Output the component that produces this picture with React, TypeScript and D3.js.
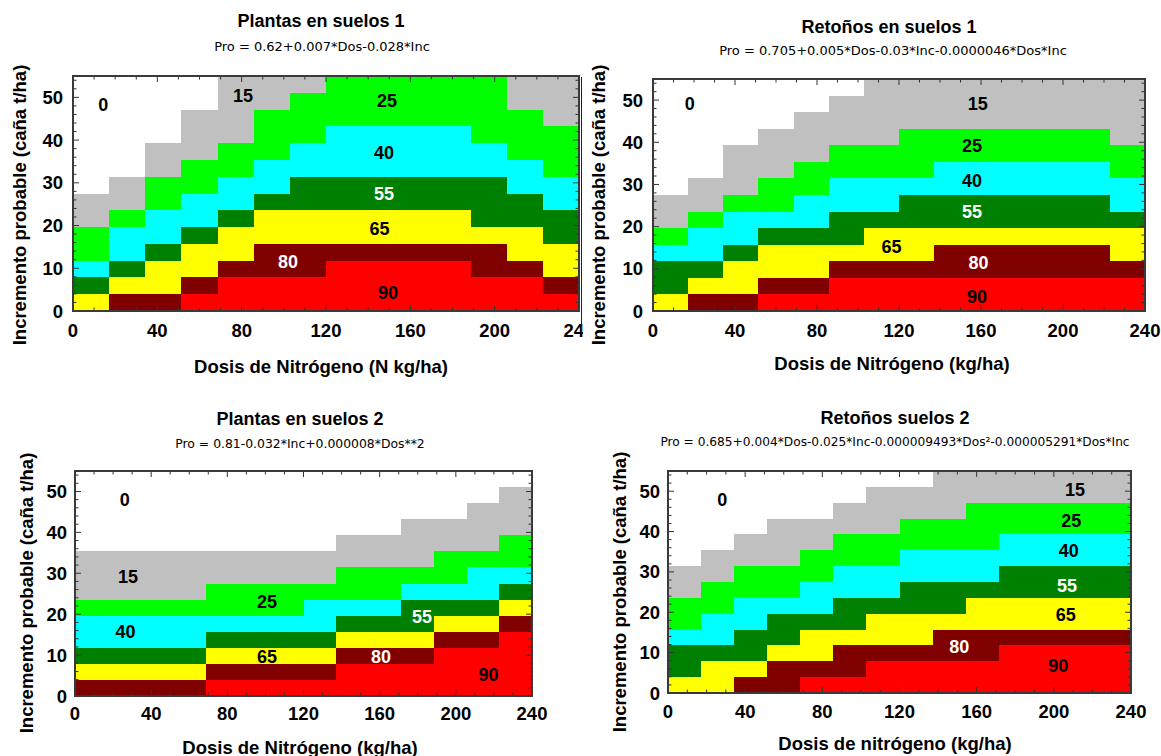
import React from 'react';
import * as d3 from 'd3';

const LEVELS = ['0', '15', '25', '40', '55', '65', '80', '90'];
const LEVEL_COLORS = ['#ffffff', '#c0c0c0', '#00ff00', '#00ffff', '#008000', '#ffff00', '#800000', '#ff0000'];
const LABEL_COLORS = ['#000', '#000', '#000', '#000', '#fff', '#000', '#fff', '#000'];

const X_TICKS = [0, 40, 80, 120, 160, 200, 240];
const Y_TICKS = [0, 10, 20, 30, 40, 50];
const DOS_MAX = 240;
const INC_MAX = 55;
const N_COLS = 14;
const N_ROWS = 14;

// level index of each cell, one string per Dos column, read from Inc 0 upwards
const plantasSuelos1 = [
  '54322110000000',
  '65433211000000',
  '65543322110000',
  '76554332211100',
  '77655433221111',
  '77665543322211',
  '77665544332221',
  '77765544333222',
  '77765544333222',
  '77765544333222',
  '77765544333222',
  '77665444332222',
  '77655443322211',
  '76554433222111'
];

const retonosSuelos1 = [
  '54432110000000',
  '65433211000000',
  '65543321110000',
  '76554322111000',
  '76554332211100',
  '77654433221110',
  '77655433221111',
  '77655443222111',
  '77665443322111',
  '77665443322111',
  '77665443322111',
  '77665443322111',
  '77665443322111',
  '77655433221111'
];

const plantasSuelos2 = [
  '65433211100000',
  '65433211100000',
  '65433211100000',
  '65433211100000',
  '76543221100000',
  '76543221100000',
  '76543221100000',
  '76543321100000',
  '77654322110000',
  '77654322110000',
  '77654432111000',
  '77765432211000',
  '77765433211100',
  '77776543221110'
];

const retonosSuelos2 = [
  '54432211000000',
  '55433221100000',
  '65443322110000',
  '66544322111000',
  '76554332211000',
  '76654433221100',
  '77655433221110',
  '77655443322110',
  '77665443322111',
  '77665543322211',
  '77765544332211',
  '77765544332211',
  '77765544332211',
  '77765544332211'
];

// contour labels: [level index, Dos, Inc]
const plantas1Labels = [
  [0, 14.4, 48.2], [1, 80.6, 50.4], [2, 148.9, 49.1], [3, 147.5, 37.0],
  [4, 147.5, 27.4], [5, 145.4, 19.2], [6, 102, 11.5], [7, 149.4, 4.3]
];
const retonos1Labels = [
  [0, 17.9, 49.1], [1, 158.4, 49.1], [2, 155.6, 39.0], [3, 155.6, 30.8],
  [4, 155.6, 23.4], [5, 116.3, 15.2], [6, 158.8, 11.4], [7, 158, 3.3]
];
const plantas2Labels = [
  [0, 26.1, 47.9], [1, 27.8, 29.2], [2, 100.8, 23.1], [3, 26.5, 15.7],
  [4, 182.2, 19.4], [5, 100.8, 9.6], [6, 160.7, 9.6], [7, 217.2, 5.1]
];
const retonos2Labels = [
  [0, 28.1, 47.8], [1, 211, 50.3], [2, 209.1, 42.7], [3, 207.8, 35.2],
  [4, 206.8, 26.5], [5, 206.2, 19.4], [6, 151, 11.4], [7, 202.3, 6.6]
];

const Y_TITLE = 'Incremento probable (caña t/ha)';
const BOLD = "'Liberation Sans', Arial, Helvetica, sans-serif";
const THIN = "'DejaVu Sans', Verdana, sans-serif";

const panels = [
  {
    id: 'p1', title: 'Plantas en suelos 1', formula: 'Pro = 0.62+0.007*Dos-0.028*Inc',
    xTitle: 'Dosis de Nitrógeno (N kg/ha)', grid: plantasSuelos1, labels: plantas1Labels,
    left: 73, right: 579, top: 76, bottom: 311, titleAt: [321, 21], subAt: [322, 46], subSize: 13,
    xTitleAt: [321, 366], yTitleAt: [19.5, 205], xTickY: 330, yTickRight: 63, clip: 583
  },
  {
    id: 'p2', title: 'Retoños en suelos 1', formula: 'Pro = 0.705+0.005*Dos-0.03*Inc-0.0000046*Dos*Inc',
    xTitle: 'Dosis de Nitrógeno (kg/ha)', grid: retonosSuelos1, labels: retonos1Labels,
    left: 653, right: 1145, top: 79, bottom: 311, titleAt: [889, 27], subAt: [893, 50], subSize: 13,
    xTitleAt: [892, 363], yTitleAt: [598, 205], xTickY: 330, yTickRight: 643, clip: 0
  },
  {
    id: 'p3', title: 'Plantas en suelos 2', formula: 'Pro = 0.81-0.032*Inc+0.000008*Dos**2',
    xTitle: 'Dosis de Nitrógeno (kg/ha)', grid: plantasSuelos2, labels: plantas2Labels,
    left: 75, right: 532, top: 471, bottom: 696, titleAt: [300, 419], subAt: [300, 443], subSize: 12.4,
    xTitleAt: [300, 747], yTitleAt: [26, 593], xTickY: 713, yTickRight: 67, clip: 0
  },
  {
    id: 'p4', title: 'Retoños suelos 2',
    formula: 'Pro = 0.685+0.004*Dos-0.025*Inc-0.000009493*Dos²-0.000005291*Dos*Inc',
    xTitle: 'Dosis de nitrógeno (kg/ha)', grid: retonosSuelos2, labels: retonos2Labels,
    left: 668, right: 1131, top: 471, bottom: 693, titleAt: [895, 418], subAt: [895, 442], subSize: 12.2,
    xTitleAt: [895, 743], yTitleAt: [619, 592], xTickY: 711, yTickRight: 660, clip: 0
  }
];

function Panel({ cfg }) {
  const x = d3.scaleLinear().domain([0, DOS_MAX]).range([cfg.left, cfg.right]);
  const y = d3.scaleLinear().domain([0, INC_MAX]).range([cfg.bottom, cfg.top]);
  const dx = DOS_MAX / N_COLS;
  const dy = INC_MAX / N_ROWS;

  // merge vertical runs of the same level inside each column
  const cells = [];
  cfg.grid.forEach((col, i) => {
    let j = 0;
    while (j < N_ROWS) {
      const lvl = +col[j];
      let k = j;
      while (k + 1 < N_ROWS && +col[k + 1] === lvl) k++;
      if (lvl > 0) {
        const x0 = Math.round(x(i * dx));
        const x1 = Math.round(x((i + 1) * dx));
        const y0 = Math.round(y((k + 1) * dy));
        const y1 = Math.round(y(j * dy));
        cells.push(
          <rect key={`${i}-${j}`} x={x0} y={y0} width={x1 - x0} height={y1 - y0} fill={LEVEL_COLORS[lvl]} />
        );
      }
      j = k + 1;
    }
  });

  const minorX = d3.range(0, DOS_MAX + 1, 10);
  const minorY = d3.range(0, INC_MAX + 0.1, 2);
  const tick = (major) => (major ? 6 : 3.5);

  const content = (
    <g>
      <rect x={cfg.left} y={cfg.top} width={cfg.right - cfg.left} height={cfg.bottom - cfg.top} fill="#fff" />
      <g shapeRendering="crispEdges">{cells}</g>

      {cfg.labels.map(([lvl, dos, inc]) => (
        <text key={lvl} x={x(dos)} y={y(inc)} textAnchor="middle" dominantBaseline="central"
          fontFamily={BOLD} fontWeight="bold" fontSize={18} fill={LABEL_COLORS[lvl]}>
          {LEVELS[lvl]}
        </text>
      ))}

      <g stroke="#333" strokeWidth={1}>
        {minorX.map((v) => (
          <g key={`tx${v}`}>
            <line x1={x(v)} x2={x(v)} y1={cfg.bottom} y2={cfg.bottom - tick(v % 40 === 0)} />
            <line x1={x(v)} x2={x(v)} y1={cfg.top} y2={cfg.top + tick(v % 40 === 0)} />
          </g>
        ))}
        {minorY.map((v) => (
          <g key={`ty${v}`}>
            <line x1={cfg.left} x2={cfg.left + tick(v % 10 === 0)} y1={y(v)} y2={y(v)} />
            <line x1={cfg.right} x2={cfg.right - tick(v % 10 === 0)} y1={y(v)} y2={y(v)} />
          </g>
        ))}
      </g>
      <rect x={cfg.left} y={cfg.top} width={cfg.right - cfg.left} height={cfg.bottom - cfg.top}
        fill="none" stroke="#3a3a3a" strokeWidth={2} />

      {X_TICKS.map((v) => (
        <text key={`xl${v}`} x={x(v)} y={cfg.xTickY} textAnchor="middle" dominantBaseline="central"
          fontFamily={BOLD} fontWeight="bold" fontSize={18.5} fill="#000">{v}</text>
      ))}
      {Y_TICKS.map((v) => (
        <text key={`yl${v}`} x={cfg.yTickRight} y={y(v)} textAnchor="end" dominantBaseline="central"
          fontFamily={BOLD} fontWeight="bold" fontSize={18.5} fill="#000">{v}</text>
      ))}

      <text x={cfg.titleAt[0]} y={cfg.titleAt[1]} textAnchor="middle" dominantBaseline="central"
        fontFamily={BOLD} fontWeight="bold" fontSize={18} fill="#000">{cfg.title}</text>
      <text x={cfg.subAt[0]} y={cfg.subAt[1]} textAnchor="middle" dominantBaseline="central"
        fontFamily={THIN} fontSize={cfg.subSize} fill="#000">{cfg.formula}</text>
      <text x={cfg.xTitleAt[0]} y={cfg.xTitleAt[1]} textAnchor="middle" dominantBaseline="central"
        fontFamily={BOLD} fontWeight="bold" fontSize={18.5} fill="#000">{cfg.xTitle}</text>
      <text transform={`translate(${cfg.yTitleAt[0]},${cfg.yTitleAt[1]}) rotate(-90)`} textAnchor="middle"
        dominantBaseline="central" fontFamily={BOLD} fontWeight="bold" fontSize={18.5} fill="#000">{Y_TITLE}</text>
    </g>
  );

  if (!cfg.clip) return content;
  return (
    <g>
      <clipPath id={`clip-${cfg.id}`}>
        <rect x={0} y={0} width={cfg.clip} height={390} />
      </clipPath>
      <g clipPath={`url(#clip-${cfg.id})`}>{content}</g>
    </g>
  );
}

export default function App() {
  return (
    <svg width={1161} height={756} style={{ position: 'absolute', left: 0, top: 0, background: '#fff' }}>
      <rect x={0} y={0} width={1161} height={756} fill="#fff" />
      {panels.map((p) => (
        <Panel key={p.id} cfg={p} />
      ))}
      <line x1={581.5} x2={581.5} y1={77} y2={333} stroke="#222" strokeWidth={1} />
    </svg>
  );
}
